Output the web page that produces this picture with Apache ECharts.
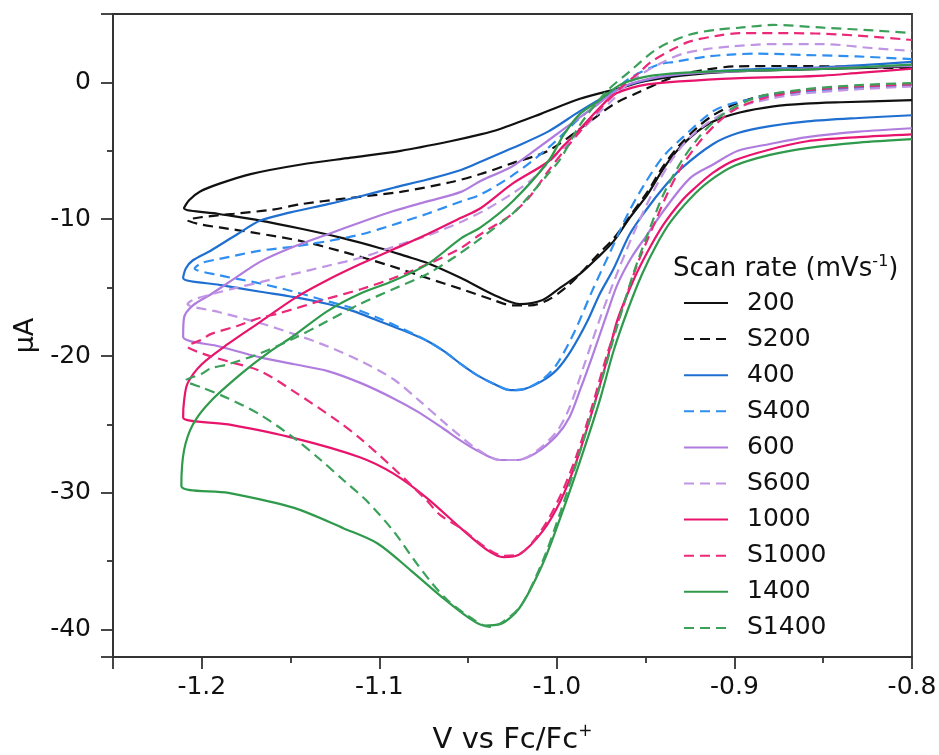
<!DOCTYPE html>
<html>
<head>
<meta charset="utf-8">
<script src="https://cdn.jsdelivr.net/npm/echarts@6/dist/echarts.min.js"></script>
<style>
  html, body { margin: 0; padding: 0; background: #fff; }
  #chart { width: 939px; height: 755px; }
</style>
</head>
<body>
<div id="chart"></div>
<script>
// Cyclic voltammograms: measured (solid) and simulated (S, dashed) at several scan rates.
// Each trace: [potential (V vs Fc/Fc+), current (uA)], drawn in scan order.

const scanRates = ['200', 'S200', '400', 'S400', '600', 'S600', '1000', 'S1000', '1400', 'S1400'];
const xTicks = [-1.2, -1.1, -1.0, -0.9, -0.8];
const yTicks = [-40, -30, -20, -10, 0];

const cv200 = [
  [-0.8, -1.3], [-0.84, -1.45], [-0.86, -1.55], [-0.878, -1.75], [-0.897, -2.2], [-0.912, -2.85],
  [-0.921, -3.6], [-0.931, -4.8], [-0.94, -6.3], [-0.949, -8.2], [-0.959, -9.9], [-0.968, -11.6],
  [-0.977, -12.8], [-0.987, -14.0], [-0.998, -15.0], [-1.008, -15.9], [-1.021, -16.2], [-1.036, -15.5],
  [-1.054, -14.3], [-1.073, -13.2], [-1.085, -12.7], [-1.1, -12.1], [-1.12, -11.4], [-1.144, -10.7],
  [-1.167, -10.1], [-1.191, -9.6], [-1.21, -9.2],
  [-1.207, -8.6], [-1.2007, -7.96], [-1.19, -7.4], [-1.1725, -6.7], [-1.144, -6.0], [-1.116, -5.5],
  [-1.088, -5.0], [-1.06, -4.3], [-1.043, -3.8], [-1.032, -3.4], [-1.009, -2.3], [-0.987, -1.2],
  [-0.964, -0.4], [-0.95, 0.1], [-0.93, 0.5], [-0.9, 0.8], [-0.86, 0.95], [-0.83, 1.05], [-0.8, 1.15]
];
const sim200 = [
  [-0.8, -0.2], [-0.83, -0.35], [-0.86, -0.6], [-0.885, -1.0], [-0.9, -1.6], [-0.912, -2.4],
  [-0.921, -3.3], [-0.931, -4.6], [-0.94, -6.1], [-0.949, -8.0], [-0.959, -9.8], [-0.968, -11.4],
  [-0.977, -12.6], [-0.987, -14.0], [-0.995, -15.0], [-1.005, -15.9], [-1.015, -16.3], [-1.025, -16.3],
  [-1.036, -15.9], [-1.054, -15.1], [-1.073, -14.3], [-1.094, -13.4], [-1.12, -12.4], [-1.144, -11.6],
  [-1.17, -11.0], [-1.19, -10.6], [-1.2, -10.4], [-1.208, -10.07],
  [-1.2, -9.85], [-1.182, -9.6], [-1.16, -9.3], [-1.144, -8.9], [-1.12, -8.5], [-1.088, -8.0],
  [-1.06, -7.3], [-1.043, -6.7], [-1.025, -5.9], [-1.005, -5.0], [-0.987, -3.4], [-0.968, -1.6],
  [-0.953, -0.66], [-0.94, 0.1], [-0.93, 0.58], [-0.915, 0.95], [-0.9, 1.17], [-0.87, 1.2],
  [-0.84, 1.15], [-0.8, 1.0]
];
const cv400 = [
  [-0.8, -2.4], [-0.83, -2.6], [-0.859, -2.85], [-0.88, -3.2], [-0.898, -3.7], [-0.912, -4.5],
  [-0.93, -6.3], [-0.94, -7.7], [-0.949, -9.2], [-0.959, -11.1], [-0.968, -13.6], [-0.976, -15.5],
  [-0.983, -17.5], [-0.992, -19.6], [-1.0, -21.0], [-1.008, -21.8], [-1.018, -22.4], [-1.026, -22.5],
  [-1.036, -22.0], [-1.045, -21.4], [-1.054, -20.6], [-1.063, -19.7], [-1.073, -18.9], [-1.087, -18.1],
  [-1.101, -17.4], [-1.115, -16.7], [-1.129, -16.2], [-1.148, -15.7], [-1.167, -15.3], [-1.19, -14.8],
  [-1.2105, -14.3],
  [-1.209, -13.6], [-1.205, -13.0], [-1.195, -12.3], [-1.18, -11.1], [-1.167, -10.1], [-1.15, -9.5],
  [-1.129, -8.9], [-1.11, -8.3], [-1.092, -7.7], [-1.073, -7.1], [-1.054, -6.4], [-1.043, -5.8],
  [-1.025, -4.8], [-1.005, -3.6], [-0.987, -2.1], [-0.968, -0.66], [-0.959, -0.15], [-0.94, 0.44],
  [-0.912, 0.8], [-0.88, 1.0], [-0.85, 1.1], [-0.8, 1.5]
];
const sim400 = [
  [-0.8, -0.25], [-0.83, -0.4], [-0.86, -0.7], [-0.88, -1.0], [-0.9, -1.5], [-0.912, -2.1],
  [-0.929, -4.0], [-0.94, -5.4], [-0.95, -7.3], [-0.96, -9.6], [-0.97, -12.4], [-0.98, -15.2],
  [-0.99, -18.2], [-1.0, -20.6], [-1.008, -21.7], [-1.018, -22.4], [-1.026, -22.5], [-1.036, -22.0],
  [-1.045, -21.4], [-1.054, -20.6], [-1.063, -19.7], [-1.073, -18.9], [-1.087, -18.0], [-1.101, -17.2],
  [-1.115, -16.5], [-1.129, -16.0], [-1.148, -15.3], [-1.167, -14.7], [-1.19, -14.1], [-1.204, -13.6],
  [-1.2, -13.2], [-1.19, -12.9], [-1.167, -12.3], [-1.148, -12.0], [-1.129, -11.6], [-1.11, -11.1],
  [-1.092, -10.4], [-1.073, -9.6], [-1.054, -8.7], [-1.043, -8.2], [-1.025, -6.8], [-1.005, -4.8],
  [-0.987, -2.6], [-0.968, -0.66], [-0.959, 0.3], [-0.943, 1.3], [-0.934, 1.5], [-0.915, 1.9],
  [-0.9, 2.05], [-0.887, 2.1], [-0.859, 2.0], [-0.831, 1.9], [-0.8, 1.7]
];
const cv600 = [
  [-0.8, -3.35], [-0.83, -3.6], [-0.859, -4.0], [-0.88, -4.5], [-0.898, -5.0], [-0.912, -6.0],
  [-0.925, -7.0], [-0.94, -9.4], [-0.949, -11.1], [-0.958, -12.8], [-0.966, -14.8], [-0.972, -17.0],
  [-0.98, -20.0], [-0.987, -22.5], [-0.993, -24.5], [-1.0, -25.8], [-1.012, -27.1], [-1.022, -27.6],
  [-1.032, -27.6], [-1.045, -26.9], [-1.054, -26.2], [-1.064, -25.3], [-1.078, -24.1], [-1.092, -23.1],
  [-1.11, -22.0], [-1.129, -21.1], [-1.148, -20.6], [-1.167, -20.1], [-1.19, -19.3], [-1.2105, -18.6],
  [-1.21, -17.2], [-1.205, -16.3], [-1.195, -15.5], [-1.18, -14.2], [-1.167, -13.1], [-1.148, -12.0],
  [-1.129, -11.1], [-1.11, -10.2], [-1.092, -9.4], [-1.073, -8.7], [-1.054, -8.0], [-1.043, -7.2],
  [-1.026, -6.2], [-1.015, -5.2], [-0.996, -3.4], [-0.977, -1.6], [-0.964, -0.4], [-0.95, 0.2],
  [-0.93, 0.6], [-0.9, 0.8], [-0.86, 1.0], [-0.8, 1.2]
];
const sim600 = [
  [-0.8, -0.3], [-0.83, -0.5], [-0.86, -0.8], [-0.88, -1.2], [-0.9, -1.9], [-0.912, -2.7],
  [-0.925, -4.0], [-0.935, -5.6], [-0.945, -7.8], [-0.955, -10.5], [-0.965, -13.6], [-0.975, -17.0],
  [-0.985, -20.8], [-0.993, -23.8], [-1.0, -25.5], [-1.012, -27.0], [-1.022, -27.6], [-1.032, -27.6],
  [-1.045, -26.8], [-1.054, -25.9], [-1.064, -24.8], [-1.078, -23.2], [-1.092, -21.7], [-1.11, -20.4],
  [-1.129, -19.3], [-1.148, -18.4], [-1.167, -17.6], [-1.19, -16.8], [-1.208, -16.2],
  [-1.205, -15.9], [-1.195, -15.5], [-1.18, -15.0], [-1.167, -14.6], [-1.148, -14.0], [-1.129, -13.4],
  [-1.11, -12.8], [-1.092, -12.0], [-1.073, -11.2], [-1.054, -10.2], [-1.04, -9.3], [-1.026, -8.2],
  [-1.015, -7.2], [-1.005, -5.9], [-0.995, -4.6], [-0.987, -3.6], [-0.977, -2.3], [-0.968, -1.2],
  [-0.96, -0.1], [-0.95, 0.8], [-0.94, 1.5], [-0.929, 2.1], [-0.915, 2.45], [-0.9, 2.65],
  [-0.878, 2.8], [-0.85, 2.8], [-0.822, 2.5], [-0.8, 2.3]
];
const cv1000 = [
  [-0.8, -3.8], [-0.83, -4.0], [-0.859, -4.3], [-0.88, -4.9], [-0.9, -5.7], [-0.912, -6.6],
  [-0.923, -7.8], [-0.93, -8.7], [-0.94, -10.4], [-0.949, -12.4], [-0.957, -14.5], [-0.966, -17.4],
  [-0.972, -20.4], [-0.98, -24.0], [-0.989, -27.7], [-0.998, -30.6], [-1.008, -32.8], [-1.021, -34.5],
  [-1.03, -34.7], [-1.039, -34.2], [-1.054, -32.6], [-1.073, -30.4], [-1.092, -28.6], [-1.111, -27.4],
  [-1.148, -26.0], [-1.185, -25.0], [-1.2105, -24.5],
  [-1.21, -23.3], [-1.208, -22.0], [-1.2, -20.6], [-1.185, -19.1], [-1.167, -17.5], [-1.148, -15.8],
  [-1.13, -14.5], [-1.111, -13.3], [-1.092, -12.2], [-1.073, -11.1], [-1.054, -9.9], [-1.043, -9.2],
  [-1.025, -7.4], [-1.005, -5.8], [-0.996, -4.6], [-0.987, -3.4], [-0.977, -2.0], [-0.968, -0.9],
  [-0.958, -0.4], [-0.949, -0.15], [-0.931, 0.07], [-0.9, 0.3], [-0.87, 0.4], [-0.85, 0.5],
  [-0.83, 0.7], [-0.8, 1.0]
];
const sim1000 = [
  [-0.8, -0.15], [-0.83, -0.3], [-0.86, -0.6], [-0.885, -1.2], [-0.9, -2.0], [-0.91, -3.0],
  [-0.92, -4.4], [-0.93, -6.2], [-0.938, -8.2], [-0.946, -10.6], [-0.955, -13.4], [-0.963, -16.5],
  [-0.972, -20.0], [-0.98, -23.6], [-0.989, -27.3], [-0.998, -30.2], [-1.008, -32.6], [-1.02, -34.4],
  [-1.03, -34.6], [-1.039, -34.1], [-1.054, -32.6], [-1.066, -31.6], [-1.073, -30.6], [-1.092, -28.2],
  [-1.111, -26.0], [-1.124, -24.7], [-1.148, -22.6], [-1.167, -21.1], [-1.185, -20.4], [-1.2, -19.8],
  [-1.208, -19.3],
  [-1.2, -18.8], [-1.195, -18.4], [-1.18, -17.8], [-1.167, -17.2], [-1.157, -16.9], [-1.129, -15.8],
  [-1.11, -15.1], [-1.092, -14.3], [-1.073, -13.3], [-1.054, -12.1], [-1.043, -11.1], [-1.026, -9.7],
  [-1.015, -8.3], [-1.005, -6.5], [-0.996, -5.0], [-0.987, -3.6], [-0.979, -2.4], [-0.964, -0.4],
  [-0.953, 0.8], [-0.947, 1.5], [-0.935, 2.4], [-0.925, 3.0], [-0.91, 3.4], [-0.897, 3.6],
  [-0.869, 3.6], [-0.84, 3.5], [-0.8, 3.1]
];
const cv1400 = [
  [-0.8, -4.15], [-0.83, -4.4], [-0.859, -4.8], [-0.88, -5.3], [-0.9, -6.1], [-0.915, -7.3],
  [-0.925, -8.5], [-0.936, -10.2], [-0.944, -11.9], [-0.952, -14.0], [-0.96, -16.6], [-0.968, -19.6],
  [-0.976, -23.3], [-0.987, -27.7], [-0.998, -31.8], [-1.008, -35.2], [-1.021, -38.4], [-1.032, -39.6],
  [-1.041, -39.7], [-1.05, -39.1], [-1.064, -37.7], [-1.082, -35.7], [-1.101, -33.7], [-1.12, -32.6],
  [-1.148, -31.1], [-1.185, -30.0], [-1.2115, -29.5],
  [-1.21, -26.9], [-1.205, -25.0], [-1.195, -23.3], [-1.176, -21.1], [-1.163, -19.8], [-1.148, -18.5],
  [-1.129, -16.7], [-1.11, -15.4], [-1.092, -14.5], [-1.073, -13.3], [-1.054, -11.4], [-1.043, -10.6],
  [-1.025, -8.7], [-1.005, -5.8], [-0.996, -3.8], [-0.987, -2.3], [-0.977, -1.4], [-0.964, -0.15],
  [-0.949, 0.44], [-0.93, 0.7], [-0.9, 0.85], [-0.86, 0.95], [-0.83, 1.1], [-0.8, 1.3]
];
const sim1400 = [
  [-0.8, -0.05], [-0.83, -0.2], [-0.86, -0.5], [-0.885, -1.0], [-0.9, -1.8], [-0.91, -2.7],
  [-0.92, -4.0], [-0.93, -5.8], [-0.94, -8.2], [-0.948, -10.8], [-0.957, -14.0], [-0.966, -17.8],
  [-0.976, -22.3], [-0.987, -27.0], [-0.998, -31.4], [-1.008, -35.0], [-1.02, -38.2], [-1.03, -39.4],
  [-1.038, -39.8], [-1.05, -39.0], [-1.062, -37.8], [-1.071, -36.5], [-1.081, -34.8], [-1.092, -32.8],
  [-1.107, -30.6], [-1.12, -29.1], [-1.133, -27.6], [-1.148, -26.0], [-1.167, -24.3], [-1.185, -23.1],
  [-1.2, -22.3], [-1.209, -21.8],
  [-1.2, -21.3], [-1.195, -20.9], [-1.185, -20.6], [-1.167, -19.8], [-1.148, -18.7], [-1.13, -17.5],
  [-1.111, -16.2], [-1.092, -15.1], [-1.073, -14.0], [-1.058, -12.8], [-1.045, -11.6], [-1.025, -9.6],
  [-1.017, -8.5], [-1.005, -6.7], [-0.998, -5.6], [-0.987, -3.1], [-0.972, -0.66], [-0.959, 0.8],
  [-0.943, 2.5], [-0.925, 3.5], [-0.91, 3.85], [-0.897, 4.0], [-0.878, 4.2], [-0.85, 4.0],
  [-0.822, 3.8], [-0.8, 3.6]
];

const traces = [cv200, sim200, cv400, sim400, cv600, sim600, cv1000, sim1000, cv1400, sim1400];
const colors = ['#111111', '#111111', '#1f6fd1', '#2f8ff0', '#b07ddf', '#c095e4',
                '#e8146c', '#ea2a78', '#2f9a4b', '#3aa05a'];

const FONT = 'DejaVu Sans';
const AXIS = '#333333';
const supRich = (size, lh) => ({
  a: { fontFamily: FONT, fontSize: size, fontWeight: 'normal', color: '#111', lineHeight: lh },
  s: { fontFamily: FONT, fontSize: Math.round(size * 0.6), fontWeight: 'normal', color: '#111',
       verticalAlign: 'top', lineHeight: lh, padding: [0, 0, Math.round(size * 0.45), 0] }
});

const chart = echarts.init(document.getElementById('chart'), null, { renderer: 'canvas' });

const series = traces.map((data, i) => ({
  name: scanRates[i],
  type: 'line',
  data: data,
  symbol: 'none',
  smooth: 0.3,
  smoothMonotone: null,
  clip: true,
  lineStyle: {
    color: colors[i],
    width: 2.2,
    type: scanRates[i].startsWith('S') ? [10, 6] : 'solid'
  },
  itemStyle: { color: colors[i] },
  z: 2 + i
}));

chart.setOption({
  animation: false,
  backgroundColor: '#ffffff',
  textStyle: { fontFamily: FONT },
  title: {
    text: '{a|Scan rate (mVs}{s|-1}{a|)}',
    left: 673,
    top: 254,
    padding: 0,
    textStyle: { fontWeight: 'normal', rich: supRich(26, 30) }
  },
  legend: {
    data: scanRates,
    orient: 'vertical',
    left: 683,
    top: 290,
    padding: 0,
    itemWidth: 44,
    itemHeight: 14,
    itemGap: 10.1,
    itemStyle: { opacity: 0 },
    textStyle: { fontFamily: FONT, fontSize: 25, color: '#111', lineHeight: 26, padding: [0, 0, 0, 14] }
  },
  grid: {
    left: 113, right: 27, top: 14, bottom: 98,
    outerBoundsMode: 'none',
    containLabel: false,
    show: true, borderColor: AXIS, borderWidth: 1.8, backgroundColor: 'transparent'
  },
  xAxis: {
    type: 'value',
    min: -1.25,
    max: -0.8,
    splitNumber: 5,
    name: '{a|V vs Fc/Fc}{s|+}',
    nameLocation: 'middle',
    nameGap: 66,
    nameTextStyle: { rich: supRich(29, 34) },
    axisLine: { show: true, onZero: false, lineStyle: { color: AXIS, width: 1.8 } },
    axisTick: { show: true, inside: false, length: 12, lineStyle: { color: AXIS, width: 1.8 } },
    minorTick: { show: true, splitNumber: 2, length: 6, lineStyle: { color: AXIS, width: 1.8 } },
    splitLine: { show: false },
    minorSplitLine: { show: false },
    axisLabel: {
      showMinLabel: false,
      margin: 18,
      fontFamily: FONT, fontSize: 25, color: '#111',
      formatter: v => xTicks.some(t => Math.abs(t - v) < 1e-9) ? v.toFixed(1) : ''
    }
  },
  yAxis: {
    type: 'value',
    min: -42,
    max: 5,
    splitNumber: 5,
    name: 'μA',
    nameLocation: 'middle',
    nameGap: 68,
    nameRotate: 90,
    nameTextStyle: { fontFamily: FONT, fontSize: 27, color: '#111' },
    axisLine: { show: true, onZero: false, lineStyle: { color: AXIS, width: 1.8 } },
    axisTick: { show: true, inside: false, length: 12, lineStyle: { color: AXIS, width: 1.8 } },
    minorTick: { show: true, splitNumber: 2, length: 6, lineStyle: { color: AXIS, width: 1.8 } },
    splitLine: { show: false },
    minorSplitLine: { show: false },
    axisLabel: {
      showMinLabel: false,
      showMaxLabel: false,
      margin: 22,
      fontFamily: FONT, fontSize: 25, color: '#111',
      formatter: v => yTicks.some(t => Math.abs(t - v) < 1e-9) ? String(v) : ''
    }
  },
  series: series
});
</script>
</body>
</html>
